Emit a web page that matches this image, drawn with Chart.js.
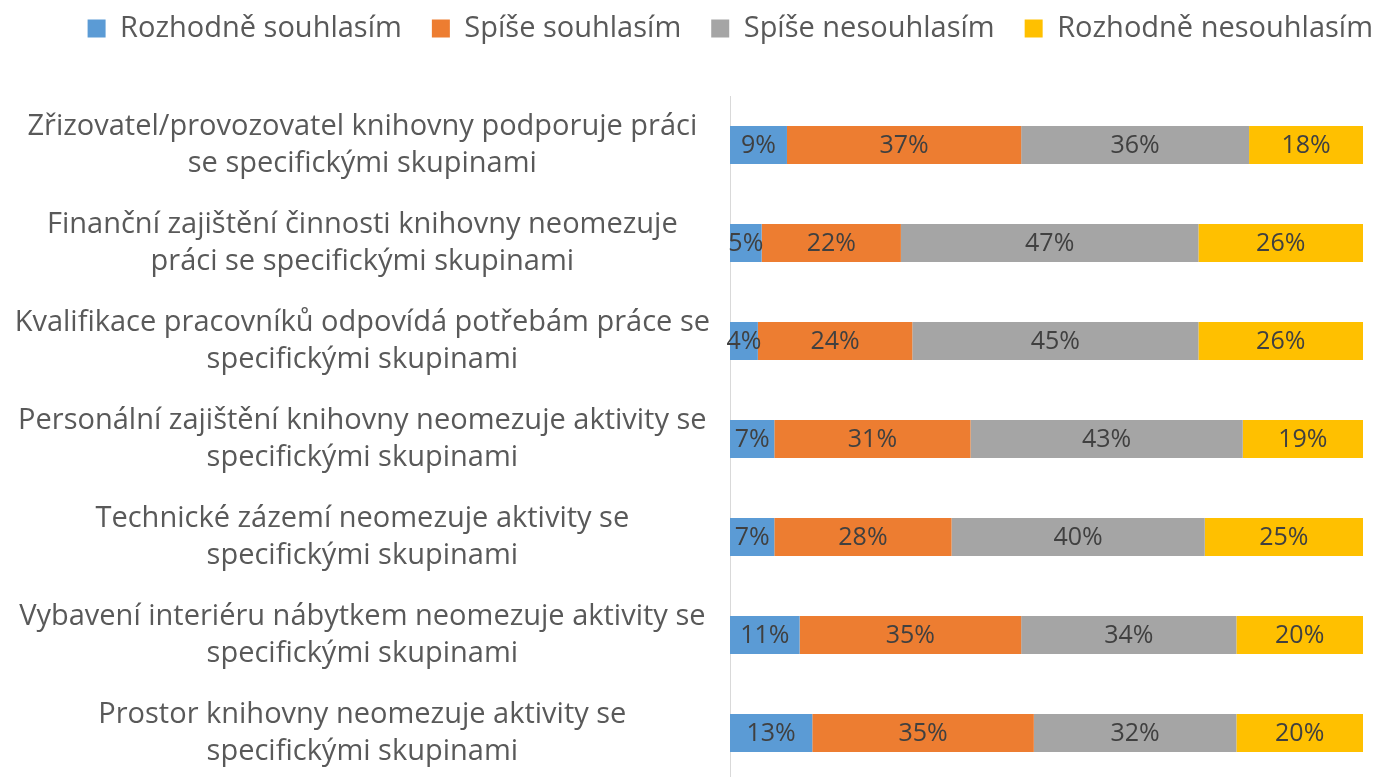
<!DOCTYPE html>
<html>
<head>
<meta charset="utf-8">
<script src="https://cdn.jsdelivr.net/npm/chart.js@4/dist/chart.umd.min.js"></script>
<style>
  html, body { margin: 0; padding: 0; background: #fff; overflow: hidden; }
  #wrap { width: 1378px; height: 782px; position: relative; }
</style>
</head>
<body>
<div id="wrap"><canvas id="chart"></canvas></div>
<script>
// otazky (radky grafu), kazda na dva radky textu
const categories = [
    ["Zřizovatel/provozovatel knihovny podporuje práci", "se specifickými skupinami"],
    ["Finanční zajištění činnosti knihovny neomezuje", "práci se specifickými skupinami"],
    ["Kvalifikace pracovníků odpovídá potřebám práce se", "specifickými skupinami"],
    ["Personální zajištění knihovny neomezuje aktivity se", "specifickými skupinami"],
    ["Technické zázemí neomezuje aktivity se", "specifickými skupinami"],
    ["Vybavení interiéru nábytkem neomezuje aktivity se", "specifickými skupinami"],
    ["Prostor knihovny neomezuje aktivity se", "specifickými skupinami"]
];

const seriesNames = ["Rozhodně souhlasím", "Spíše souhlasím", "Spíše nesouhlasím", "Rozhodně nesouhlasím"];

// podily v %
const rozhodneSouhlasim   = [9, 5, 4.4, 7, 7, 11, 13];
const spiseSouhlasim      = [37, 22, 24.4, 31, 28, 35, 35];
const spiseNesouhlasim    = [36, 47, 45.2, 43, 40, 34, 32];
const rozhodneNesouhlasim = [18, 26, 26, 19, 25, 20, 20];

const colors = ['#5B9BD5', '#ED7D31', '#A5A5A5', '#FFC000'];

const FONT = '"Open Sans", sans-serif';

// popisky hodnot uprostred segmentu
const valueLabels = {
    id: 'valueLabels',
    afterDatasetsDraw(chart) {
        let ctx = chart.ctx;
        ctx.save();
        ctx.font = '25px ' + FONT;
        ctx.fillStyle = '#404040';
        ctx.textAlign = 'center';
        ctx.textBaseline = 'middle';
        chart.data.datasets.forEach((ds, i) => {
            let meta = chart.getDatasetMeta(i);
            meta.data.forEach((bar, j) => {
                let cx = (bar.x + bar.base) / 2;
                ctx.fillText(Math.round(ds.data[j]) + '%', cx, bar.y + 1);
            });
        });
        ctx.restore();
    }
};

// mezera pod legendou
const legendGap = {
    id: 'legendGap',
    beforeLayout(chart) {
        let legend = chart.legend;
        if (!legend || legend._gapDone) return;
        let fit = legend.fit;
        legend.fit = function () {
            fit.call(this);
            this.height += 43;
        };
        legend._gapDone = true;
    }
};

const allSeries = [rozhodneSouhlasim, spiseSouhlasim, spiseNesouhlasim, rozhodneNesouhlasim];

let barData = {
    labels: categories,
    datasets: allSeries.map((vals, i) => ({
        label: seriesNames[i],
        data: vals,
        backgroundColor: colors[i],
        barPercentage: 0.39,
        categoryPercentage: 1.0
    }))
};

new Chart(document.getElementById('chart').getContext('2d'), {
    type: 'bar',
    data: barData,
    plugins: [valueLabels, legendGap],
    options: {
        indexAxis: 'y',
        responsive: true,
        maintainAspectRatio: false,
        animation: false,
        layout: { padding: { left: 12, right: -25, top: -16, bottom: 0 } },
        plugins: {
            legend: {
                position: 'top',
                align: 'end',
                labels: {
                    boxWidth: 18,
                    boxHeight: 18,
                    padding: 30,
                    color: '#595959',
                    font: { family: FONT, size: 29 }
                }
            },
            tooltip: { enabled: false }
        },
        scales: {
            x: {
                stacked: true,
                min: 0,
                max: 100,
                display: false
            },
            y: {
                stacked: true,
                grid: { display: false, drawTicks: false },
                border: { display: true, color: '#D9D9D9', width: 1 },
                ticks: {
                    crossAlign: 'center',
                    padding: 20,
                    color: '#595959',
                    font: { family: FONT, size: 29, lineHeight: 1.28 }
                },
                afterFit(scale) {
                    // sirka osy s popisky, okraje grafove plochy
                    scale.width = 718;
                    scale.paddingTop = 0;
                    scale.paddingBottom = 0;
                    scale.paddingRight = 15;
                }
            }
        }
    }
});
</script>
</body>
</html>
